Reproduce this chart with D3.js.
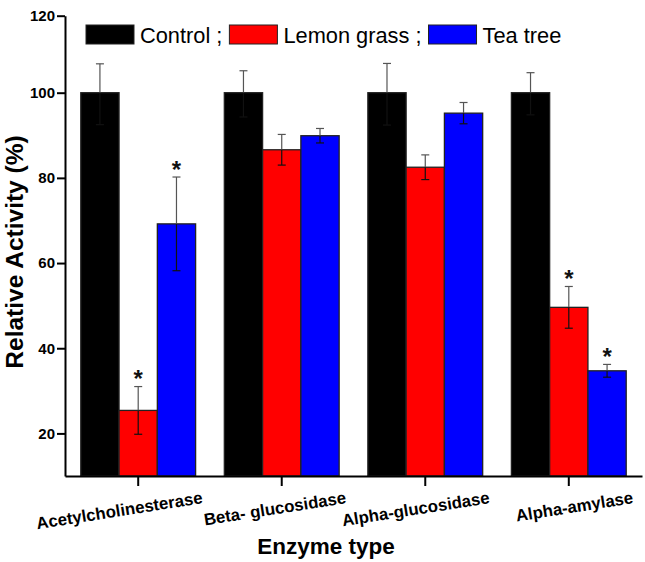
<!DOCTYPE html>
<html>
<head>
<meta charset="utf-8">
<script src="https://cdn.jsdelivr.net/npm/d3@7"></script>
<style>
  body { margin: 0; background: #fff; }
  svg { display: block; font-family: Arial, "Liberation Sans", sans-serif; }
</style>
</head>
<body>
<div id="chart"></div>
<script>
// values
var categories = ["Acetylcholinesterase", "Beta- glucosidase", "Alpha-glucosidase", "Alpha-amylase"];
var series = ["Control", "Lemon grass", "Tea tree"];
var legendText = ["Control ;", "Lemon grass ;", "Tea tree"];
var colors = ["#000000", "#ff0000", "#0000ff"];

var controlVals = [100, 100, 100, 100];
var controlErr = [7.5, 5.7, 7.6, 5.2];
var lemonVals = [25.4, 86.6, 82.5, 49.6];
var lemonErr = [5.6, 3.6, 2.9, 4.9];
var teaVals = [69.2, 89.9, 95.2, 34.7];
var teaErr = [11, 1.7, 2.5, 1.5];
var lemonStar = [true, false, false, true];
var teaStar = [true, false, false, true];

var yTicks = [20, 40, 60, 80, 100, 120];

var width = 645,
    height = 562;

var rows = [];
categories.forEach(function(c, i) {
  rows.push({cat: c, s: series[0], v: controlVals[i], e: controlErr[i], star: false, col: colors[0]});
  rows.push({cat: c, s: series[1], v: lemonVals[i], e: lemonErr[i], star: lemonStar[i], col: colors[1]});
  rows.push({cat: c, s: series[2], v: teaVals[i], e: teaErr[i], star: teaStar[i], col: colors[2]});
});

var svg = d3.select("#chart")
            .append("svg")
            .attr("width", width)
            .attr("height", height);

// the printed axis is a bit squeezed above 100, so two pieces
var y = d3.scaleLinear()
    .domain([10, 100, 120])
    .range([476, 92.7, 15.7]);

var x0 = d3.scaleBand()
    .domain(categories)
    .range([65, 642])
    .paddingInner(0.2)
    .paddingOuter(0.11);

var x1 = d3.scaleBand()
    .domain(series)
    .range([0, x0.bandwidth()]);

// bars
svg.append("g")
   .selectAll("rect")
   .data(rows)
   .enter().append("rect")
   .attr("x", function(d) { return x0(d.cat) + x1(d.s); })
   .attr("y", function(d) { return y(d.v); })
   .attr("width", x1.bandwidth())
   .attr("height", function(d) { return y(10) - y(d.v); })
   .attr("fill", function(d) { return d.col; })
   .attr("stroke", "#222")
   .attr("stroke-width", 1.3);

// error bars: grey above the bar, dark inside it
var eb = svg.append("g")
   .attr("stroke-width", 1.2)
   .selectAll("g")
   .data(rows)
   .enter().append("g")
   .attr("transform", function(d) { return "translate(" + (x0(d.cat) + x1(d.s) + x1.bandwidth() / 2) + ",0)"; });

eb.append("line")
  .attr("stroke", "#555")
  .attr("y1", function(d) { return y(d.v + d.e); })
  .attr("y2", function(d) { return y(d.v); });
eb.append("line")
  .attr("stroke", "#555")
  .attr("x1", -4).attr("x2", 4)
  .attr("y1", function(d) { return y(d.v + d.e); })
  .attr("y2", function(d) { return y(d.v + d.e); });
eb.append("line")
  .attr("stroke", "#111")
  .attr("y1", function(d) { return y(d.v); })
  .attr("y2", function(d) { return y(d.v - d.e); });
eb.append("line")
  .attr("stroke", "#111")
  .attr("x1", -4).attr("x2", 4)
  .attr("y1", function(d) { return y(d.v - d.e); })
  .attr("y2", function(d) { return y(d.v - d.e); });

// significance stars
svg.append("g")
   .selectAll("text")
   .data(rows.filter(function(d) { return d.star; }))
   .enter().append("text")
   .attr("x", function(d) { return x0(d.cat) + x1(d.s) + x1.bandwidth() / 2; })
   .attr("y", function(d) { return y(d.v + d.e) + 0.5; })
   .attr("text-anchor", "middle")
   .attr("font-size", 24)
   .attr("font-weight", "bold")
   .attr("fill", "#111")
   .text("*");

// y axis
var yAxis = svg.append("g")
   .attr("transform", "translate(65,0)")
   .call(d3.axisLeft(y).tickValues(yTicks).tickSize(8).tickSizeOuter(0).tickPadding(2));
yAxis.select(".domain").attr("stroke", "#000").attr("stroke-width", 2);
yAxis.selectAll(".tick line").attr("stroke", "#000").attr("stroke-width", 2);
yAxis.selectAll(".tick text")
     .attr("font-size", 15)
     .attr("font-weight", "bold")
     .attr("fill", "#000")
     .attr("font-family", "Arial, 'Liberation Sans', sans-serif");

// x axis
var xAxis = svg.append("g")
   .attr("transform", "translate(0,476)")
   .call(d3.axisBottom(x0).tickSize(10).tickSizeOuter(0));
xAxis.select(".domain").attr("stroke", "#000").attr("stroke-width", 2);
xAxis.selectAll(".tick line").attr("stroke", "#000").attr("stroke-width", 2);
xAxis.selectAll(".tick text")
     .attr("font-size", 16.8)
     .attr("font-weight", "bold")
     .attr("fill", "#000")
     .attr("font-family", "Arial, 'Liberation Sans', sans-serif")
     .attr("text-anchor", "end")
     .attr("dy", null)
     .attr("x", 65)
     .attr("y", 27)
     .attr("transform", "rotate(-9, 65, 27)");

// axis titles
svg.append("text")
   .attr("x", 326)
   .attr("y", 554)
   .attr("text-anchor", "middle")
   .attr("font-size", 22.5)
   .attr("font-weight", "bold")
   .text("Enzyme type");

svg.append("text")
   .attr("transform", "translate(23,252) rotate(-90)")
   .attr("text-anchor", "middle")
   .attr("font-size", 24.5)
   .attr("font-weight", "bold")
   .text("Relative Activity (%)");

// legend
var lx = 86;
var lg = svg.append("g");
legendText.forEach(function(t, i) {
  lg.append("rect")
    .attr("x", lx).attr("y", 25)
    .attr("width", 48).attr("height", 19)
    .attr("fill", colors[i])
    .attr("stroke", "#222")
    .attr("stroke-width", 1);
  var tx = lg.append("text")
    .attr("x", lx + 54).attr("y", 42.5)
    .attr("font-size", 21.8)
    .text(t);
  lx = lx + 54 + tx.node().getComputedTextLength() + 7;
});
</script>
</body>
</html>
